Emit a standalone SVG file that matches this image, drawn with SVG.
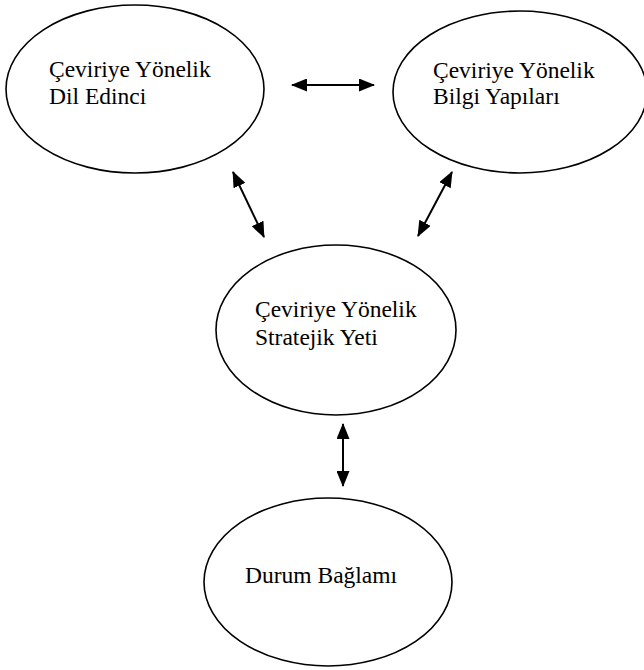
<svg xmlns="http://www.w3.org/2000/svg" width="644" height="670" viewBox="0 0 644 670">
<defs>
<style>
.node ellipse{fill:#fff;stroke:#000;stroke-width:1.6}
.node text{font-family:'Liberation Serif','Times New Roman',serif;font-size:23.5px;fill:#000}
.edge line{stroke:#000;stroke-width:2;fill:none}
</style>
<marker id="ah" viewBox="0 0 16 13" refX="15" refY="6.5" markerWidth="16" markerHeight="13" markerUnits="userSpaceOnUse" orient="auto-start-reverse">
<path d="M0,0 L16,6.5 L0,13 Z" fill="#000"/>
</marker>
</defs>
<rect width="644" height="670" fill="#fff"/>
<g id="n1" class="node">
<ellipse cx="135" cy="89" rx="129" ry="84"/>
<text x="49" y="77">Çeviriye Yönelik</text>
<text x="49" y="104">Dil Edinci</text>
</g>
<g id="n2" class="node">
<ellipse cx="520" cy="92" rx="127" ry="81"/>
<text x="433" y="78">Çeviriye Yönelik</text>
<text x="433" y="104">Bilgi Yapıları</text>
</g>
<g id="n3" class="node">
<ellipse cx="336" cy="330" rx="120" ry="85"/>
<text x="255" y="317">Çeviriye Yönelik</text>
<text x="255" y="345">Stratejik Yeti</text>
</g>
<g id="n4" class="node">
<ellipse cx="328" cy="582" rx="124" ry="84"/>
<text x="245" y="583">Durum Bağlamı</text>
</g>
<g id="edges" class="edge">
<line x1="292" y1="85" x2="374" y2="85" marker-start="url(#ah)" marker-end="url(#ah)"/>
<line x1="233" y1="172" x2="264" y2="237" marker-start="url(#ah)" marker-end="url(#ah)"/>
<line x1="452" y1="172" x2="418" y2="236" marker-start="url(#ah)" marker-end="url(#ah)"/>
<line x1="343" y1="424" x2="343" y2="486" marker-start="url(#ah)" marker-end="url(#ah)"/>
</g>
</svg>
